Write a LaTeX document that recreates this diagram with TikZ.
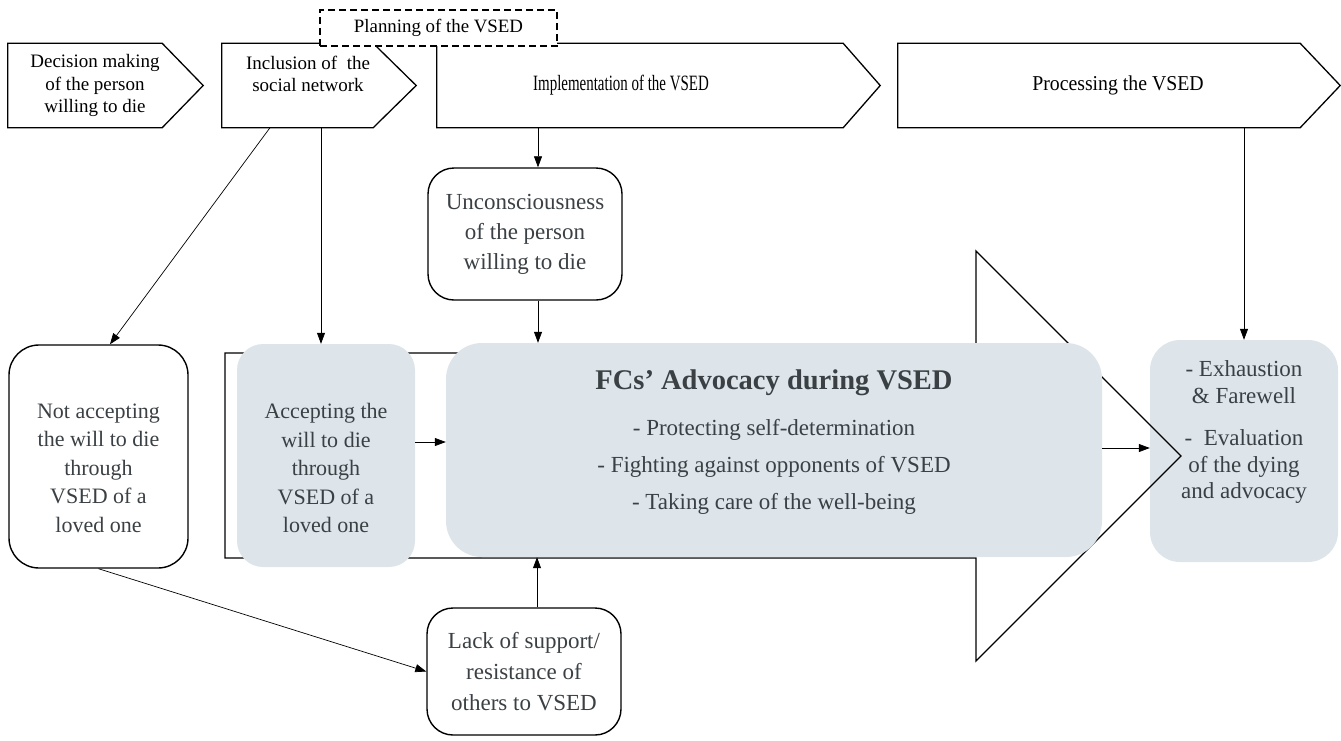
\documentclass[tikz,border=0pt]{standalone}
\usepackage{fontspec}
\setmainfont{Liberation Serif}
\usetikzlibrary{arrows.meta}
\definecolor{boxfill}{RGB}{221,229,235}
\definecolor{txtgray}{RGB}{58,64,67}

\begin{document}
\begin{tikzpicture}[x=1pt,y=-1pt,
    font=\fontsize{23}{30}\selectfont,
    stage/.style={draw=none,minimum width=#1,minimum height=84,inner sep=0},
    outline/.style={line width=1.3pt},
    plainbox/.style={draw,line width=1.4pt,rounded corners=26pt,inner sep=0,align=center,text=txtgray},
    bluebox/.style={fill=boxfill,draw=none,rounded corners=30pt,inner sep=0},
    arr/.style={-{Triangle[length=11pt,width=8pt]},line width=0.7pt},
    txt/.style={align=center,text=txtgray},
    shrink/.style={scale=#1,transform shape}]
    \useasboundingbox (0,0) rectangle (1341,740);

    % blue box on the right, under the big arrow
    \node[bluebox,minimum width=188,minimum height=222] (exh) at (1244,451) {};

    % big arrow behind the boxes
    \draw[outline] (225,353) -- (976,353) -- (976,251) -- (1181,456) -- (976,661) -- (976,558) -- (225,558) -- cycle;

    \node[plainbox,minimum width=179,minimum height=223,rounded corners=30pt] (notacc) at (98.5,456.5) {};
    \node[bluebox,minimum width=178,minimum height=223,rounded corners=26pt] (accept) at (326,455.5) {};
    \node[bluebox,minimum width=656,minimum height=214,rounded corners=36pt] (fcs) at (774,450) {};
    \node[plainbox,minimum width=194,minimum height=132] (uncon) at (525,234)
        {Unconsciousness\\of the person\\willing to die};
    \node[plainbox,minimum width=194,minimum height=127,font=\fontsize{23}{31}\selectfont] (lack) at (524,671.5)
        {Lack of support/\\resistance of\\others to VSED};

    % the four stages
    \node[stage=154] (decide) at (85,85.5) {};
    \draw[outline] (decide.north west) -- (decide.north east) -- ([xshift=41pt]decide.east) -- (decide.south east) -- (decide.south west) -- cycle;
    \node[stage=151] (incl) at (297.5,85.5) {};
    \draw[outline] (incl.north west) -- (incl.north east) -- ([xshift=43pt]incl.east) -- (incl.south east) -- (incl.south west) -- cycle;
    \node[stage=406] (impl) at (640,85.5) {};
    \draw[outline] (impl.north west) -- (impl.north east) -- ([xshift=37pt]impl.east) -- (impl.south east) -- (impl.south west) -- cycle;
    \node[stage=402] (proc) at (1099,85.5) {};
    \draw[outline] (proc.north west) -- (proc.north east) -- ([xshift=40pt]proc.east) -- (proc.south east) -- (proc.south west) -- cycle;
    \node[draw,dashed,dash pattern=on 7pt off 4pt,line width=1.2pt,fill=white,minimum width=237,minimum height=36] (plan) at (438.5,28) {};
    \node[shrink=0.82] (plan-t) at (plan.center) {Planning of the VSED};

    % texts
    \node[align=center,shrink=0.826,font=\fontsize{23}{27.2}\selectfont] (decide-t) at (95,85.5) {Decision making\\of the person\\willing to die};
    \node[align=center,shrink=0.826,font=\fontsize{23}{27.2}\selectfont] (incl-t) at (308,74) {Inclusion of\ \ the\\social network};
    \node[xscale=0.65,yscale=0.95,transform shape] (impl-t) at (621,85.5) {Implementation of the VSED};
    \node[xscale=0.86,yscale=0.92,transform shape] (proc-t) at (1118,85.5) {Processing the VSED};
    \node[txt,shrink=0.957,font=\fontsize{23}{29.8}\selectfont] (notacc-t) at (98.5,468)
        {Not accepting\\the will to die\\through\\VSED of a\\loved one};
    \node[txt,shrink=0.957,font=\fontsize{23}{29.8}\selectfont] (accept-t) at (326,468)
        {Accepting the\\will to die\\through\\VSED of a\\loved one};
    \node[txt,font=\bfseries\fontsize{28.5}{32}\selectfont] (fcs-title) at (774,383) {FCs’ Advocacy during VSED};
    \node[txt,font=\fontsize{23}{37}\selectfont] (fcs-items) at (774,467)
        {- Protecting self-determination\\- Fighting against opponents of VSED\\- Taking care of the well-being};
    \node[txt,font=\fontsize{23}{26.5}\selectfont] (exh-t) at (1244,432)
        {- Exhaustion\\\& Farewell\\[16pt]-\ \ Evaluation\\of the dying\\and advocacy};

    % connectors
    \draw[arr] ([xshift=-27.5pt]incl.south) -- ([xshift=11.5pt]notacc.north);
    \draw[arr] ([xshift=23.5pt]incl.south) -- ([xshift=-5pt]accept.north);
    \draw[arr] ([xshift=-102pt]impl.south) -- ([xshift=13pt]uncon.north);
    \draw[arr] ([xshift=13pt]uncon.south) -- ([xshift=13pt]uncon.south |- fcs.north);
    \draw[arr] ([xshift=13pt]lack.north) -- ([xshift=13pt]lack.north |- fcs.south);
    \draw[arr] (notacc.south) -- (lack.west);
    \draw[arr] ([yshift=13.5pt]accept.east) -- ([yshift=13.5pt]accept.east -| fcs.west);
    \draw[arr] ([yshift=2pt]fcs.east) -- ([yshift=2pt]fcs.east -| exh.west);
    \draw[arr] (exh.north |- proc.south) -- (exh.north);
\end{tikzpicture}
\end{document}
